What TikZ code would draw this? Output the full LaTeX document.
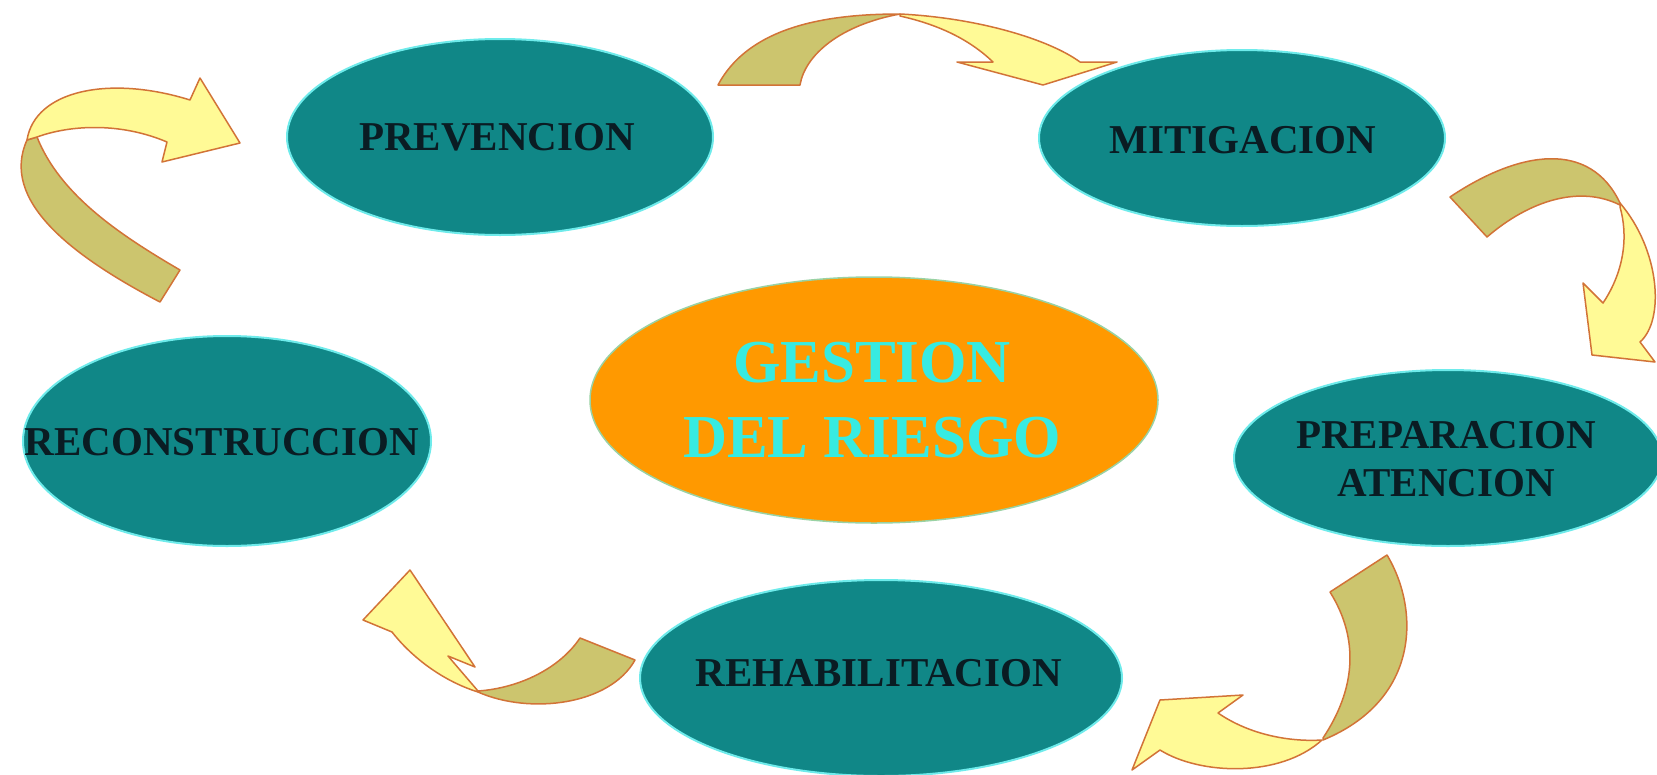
\documentclass[tikz,border=0pt]{standalone}
\usepackage{fontspec}
\setmainfont{Liberation Serif}
\definecolor{tealfill}{RGB}{16,135,135}
\definecolor{glow}{RGB}{110,235,235}
\definecolor{lbl}{RGB}{10,28,35}
\definecolor{orng}{RGB}{255,153,0}
\definecolor{cyantxt}{RGB}{55,235,225}
\definecolor{olive}{RGB}{204,197,110}
\definecolor{pale}{RGB}{255,250,150}
\definecolor{rim}{RGB}{210,115,55}
\begin{document}
\begin{tikzpicture}[x=1pt,y=-1pt,
  ellbox/.style={fill=tealfill, draw=glow, line width=2pt},
  centrebox/.style={fill=orng, draw=glow!70!orng, line width=1.5pt},
  phase/.style={inner sep=0pt, text=lbl, font=\fontsize{41}{48}\selectfont\bfseries, align=center},
  core/.style={inner sep=0pt, text=cyantxt, font=\fontsize{61}{75}\selectfont\bfseries, align=center},
  tailpart/.style={fill=olive, draw=rim, line width=1.5pt, line join=round},
  headpart/.style={fill=pale, draw=rim, line width=1.5pt, line join=round}]
\useasboundingbox (0,0) rectangle (1657,774);
\fill[white] (0,0) rectangle (1657,774);

% ellipses
\path[ellbox] (500,137) ellipse [x radius=213pt, y radius=98pt];
\path[ellbox] (1242,138) ellipse [x radius=203pt, y radius=88pt];
\path[ellbox] (227,441) ellipse [x radius=204pt, y radius=105pt];
\path[ellbox] (1448,458) ellipse [x radius=214pt, y radius=88pt];
\path[ellbox] (881,678) ellipse [x radius=241pt, y radius=98pt];
\path[centrebox] (874,400) ellipse [x radius=284pt, y radius=123pt];

% labels
\node[phase] (prev) at (497,137) {PREVENCION};
\node[phase] (miti) at (1243,140) {MITIGACION};
\node[phase] (reco) at (222,442) {RECONSTRUCCION};
\node[phase] (prep) at (1446,459) {PREPARACION\\ATENCION};
\node[phase] (reha) at (879,673) {REHABILITACION};
\node[core] (gest) at (872,400) {GESTION\\DEL RIESGO};

% arrow 1: prevencion -> mitigacion
\filldraw[tailpart] (718,85) .. controls (750,25) and (830,14) .. (900,14)
  .. controls (840,25) and (805,55) .. (800,85) -- cycle;
\filldraw[headpart] (900,14) .. controls (980,18) and (1050,40) .. (1080,62)
  -- (1117,62) -- (1043,85) -- (957,62) -- (993,62)
  .. controls (970,40) and (940,25) .. (900,16) -- cycle;

% arrow 2: reconstruccion -> prevencion
\filldraw[tailpart] (160,302) .. controls (70,255) and (0,200) .. (27,140)
  -- (37,137) .. controls (60,195) and (120,235) .. (180,270) -- cycle;
\filldraw[headpart] (27,140) .. controls (35,90) and (110,75) .. (190,100)
  -- (200,78) -- (240,143) -- (162,162) -- (167,142)
  .. controls (120,122) and (70,125) .. (37,137) -- cycle;

% arrow 3: mitigacion -> preparacion
\filldraw[tailpart] (1450,197) .. controls (1520,150) and (1590,140) .. (1620,203)
  -- (1620,205) .. controls (1580,185) and (1530,200) .. (1487,237) -- cycle;
\filldraw[headpart] (1620,203) .. controls (1660,250) and (1665,320) .. (1640,342)
  -- (1655,362) -- (1592,355) -- (1583,283) -- (1603,303)
  .. controls (1625,270) and (1628,235) .. (1620,207) -- cycle;

% arrow 4: preparacion -> rehabilitacion
\filldraw[tailpart] (1330,592) -- (1387,555) .. controls (1420,610) and (1420,700) .. (1323,740)
  -- (1323,738) .. controls (1355,690) and (1360,640) .. (1330,592) -- cycle;
\filldraw[headpart] (1322,740) .. controls (1280,778) and (1200,775) .. (1160,750)
  -- (1132,770) -- (1160,700) -- (1243,695) -- (1218,713)
  .. controls (1250,735) and (1290,742) .. (1322,740) -- cycle;

% arrow 5: rehabilitacion -> reconstruccion
\filldraw[tailpart] (478,691) .. controls (520,688) and (560,668) .. (580,638)
  -- (635,660) .. controls (610,705) and (530,715) .. (478,692) -- cycle;
\filldraw[headpart] (478,691) -- (448,656) -- (475,667) -- (410,570) -- (363,620) -- (392,632)
  .. controls (410,655) and (440,680) .. (478,692) -- cycle;
\end{tikzpicture}
\end{document}
